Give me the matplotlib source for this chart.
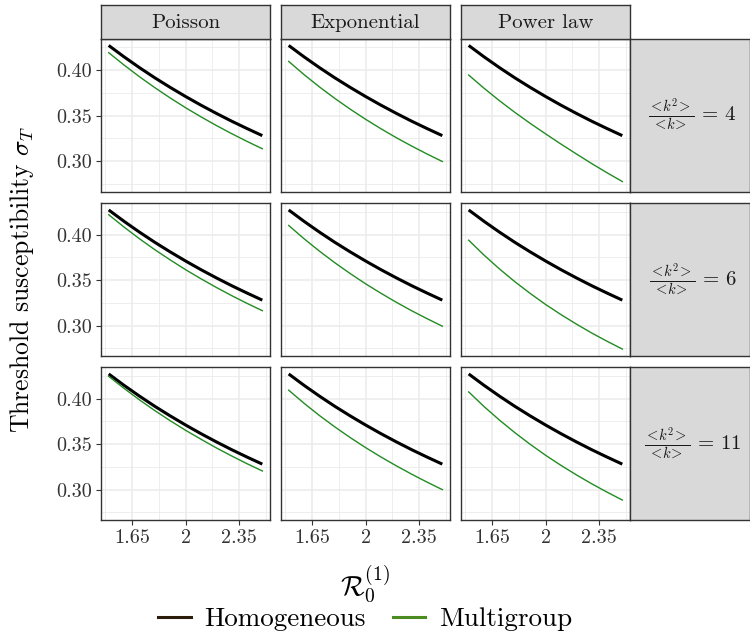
import numpy as np
import matplotlib.pyplot as plt
from matplotlib.lines import Line2D

plt.rcParams['font.family'] = 'cmr10'
plt.rcParams['mathtext.fontset'] = 'cm'
plt.rcParams['axes.formatter.use_mathtext'] = True

# ---- data ----
r0 = [1.5, 1.6, 1.7, 1.8, 1.9, 2.0, 2.1, 2.2, 2.3, 2.4, 2.5]

homogeneous = [0.4270, 0.4145, 0.4027, 0.3915, 0.3810, 0.3710,
               0.3615, 0.3525, 0.3439, 0.3358, 0.3280]

poisson_4 = [0.4191, 0.4055, 0.3927, 0.3807, 0.3694, 0.3587,
             0.3487, 0.3392, 0.3302, 0.3217, 0.3136]
poisson_6 = [0.4218, 0.4082, 0.3954, 0.3834, 0.3722, 0.3615,
             0.3515, 0.3420, 0.3330, 0.3245, 0.3164]
poisson_11 = [0.4244, 0.4112, 0.3986, 0.3868, 0.3757, 0.3652,
              0.3554, 0.3459, 0.3370, 0.3285, 0.3205]

expo_4 = [0.4095, 0.3950, 0.3815, 0.3689, 0.3571, 0.3460,
          0.3356, 0.3258, 0.3166, 0.3079, 0.2996]
expo_6 = [0.4100, 0.3954, 0.3818, 0.3691, 0.3572, 0.3460,
          0.3356, 0.3257, 0.3164, 0.3077, 0.2994]
expo_11 = [0.4092, 0.3948, 0.3814, 0.3689, 0.3572, 0.3462,
           0.3359, 0.3262, 0.3170, 0.3083, 0.3000]

power_4 = [0.3945, 0.3800, 0.3664, 0.3536, 0.3415, 0.3300,
           0.3188, 0.3080, 0.2974, 0.2873, 0.2776]
power_6 = [0.3938, 0.3774, 0.3623, 0.3483, 0.3354, 0.3233,
           0.3122, 0.3018, 0.2920, 0.2829, 0.2743]
power_11 = [0.4073, 0.3912, 0.3764, 0.3626, 0.3498, 0.3378,
            0.3267, 0.3163, 0.3065, 0.2973, 0.2886]

distributions = ['Poisson', 'Exponential', 'Power law']
ratios = [4, 6, 11]
multigroup = {
    'Poisson': [poisson_4, poisson_6, poisson_11],
    'Exponential': [expo_4, expo_6, expo_11],
    'Power law': [power_4, power_6, power_11],
}

xticks = [1.65, 2.0, 2.35]
xtick_labels = ['1.65', '2', '2.35']
yticks = [0.30, 0.35, 0.40]
ytick_labels = ['0.30', '0.35', '0.40']

# ---- layout (pixels) ----
W, H = 750, 635
col_x = [101, 281, 461]
panel_w = 169
row_y = [38.5, 203, 367]
panel_h = 153
strip_top = 5
strip_right_w = 120

def rect(x0, y0, x1, y1):
    return [x0 / W, 1 - y1 / H, (x1 - x0) / W, (y1 - y0) / H]

all_y = np.concatenate([homogeneous] + [np.ravel(v) for v in multigroup.values()])
ypad = (all_y.max() - all_y.min()) * 0.05
ylim = (all_y.min() - ypad, all_y.max() + ypad)
xpad = (max(r0) - min(r0)) * 0.05
xlim = (min(r0) - xpad, max(r0) + xpad)

xminor = np.r_[np.array(xticks) - 0.175, xticks[-1] + 0.175]
yminor = np.r_[np.array(yticks) - 0.025, yticks[-1] + 0.025]

border = '#333333'
grid_c = '#EBEBEB'
strip_c = '#D9D9D9'
green = '#228B22'

fig = plt.figure(figsize=(W / 100, H / 100), dpi=100)

for i, ratio in enumerate(ratios):
    for j, dist in enumerate(distributions):
        x0, y0 = col_x[j], row_y[i]
        ax = fig.add_axes(rect(x0, y0, x0 + panel_w, y0 + panel_h))
        ax.set_xlim(xlim)
        ax.set_ylim(ylim)
        for v in xminor:
            ax.axvline(v, color=grid_c, lw=0.6, zorder=0)
        for v in yminor:
            ax.axhline(v, color=grid_c, lw=0.6, zorder=0)
        for v in xticks:
            ax.axvline(v, color=grid_c, lw=1.1, zorder=0)
        for v in yticks:
            ax.axhline(v, color=grid_c, lw=1.1, zorder=0)
        ax.plot(r0, homogeneous, color='black', lw=2.2, zorder=2,
                solid_capstyle='butt')
        ax.plot(r0, multigroup[dist][i], color=green, lw=1.0, zorder=3)
        for s in ax.spines.values():
            s.set_color(border)
            s.set_linewidth(1.0)
        ax.set_xticks(xticks)
        ax.set_yticks(yticks)
        ax.tick_params(length=3.5, width=0.8, color=border, labelcolor='#333333',
                       labelsize=14.5, pad=3)
        if i == len(ratios) - 1:
            ax.set_xticklabels(xtick_labels)
        else:
            ax.tick_params(axis='x', length=0, labelbottom=False)
        if j == 0:
            ax.set_yticklabels(ytick_labels)
        else:
            ax.tick_params(axis='y', length=0, labelleft=False)

        if i == 0:
            sax = fig.add_axes(rect(x0, strip_top, x0 + panel_w, y0))
            sax.set_facecolor(strip_c)
            sax.set_xticks([])
            sax.set_yticks([])
            for s in sax.spines.values():
                s.set_color(border)
                s.set_linewidth(1.0)
            sax.text(0.5, 0.45, dist, ha='center', va='center', fontsize=15,
                     color='#1A1A1A', transform=sax.transAxes)

    x_r = col_x[-1] + panel_w
    rax = fig.add_axes(rect(x_r, row_y[i], x_r + strip_right_w, row_y[i] + panel_h))
    rax.set_facecolor(strip_c)
    rax.set_xticks([])
    rax.set_yticks([])
    for s in rax.spines.values():
        s.set_color(border)
        s.set_linewidth(1.0)
    rax.text(0.52, 0.5, r'$\frac{<\!k^2\!>}{<\!k\!>}\,=\,%d$' % ratio,
             ha='center', va='center', fontsize=15, color='#1A1A1A',
             transform=rax.transAxes)

fig.text(22 / W, 1 - 279 / H, r'Threshold susceptibility $\sigma_T$', rotation=90,
         ha='center', va='center', fontsize=18.5)
fig.text(365 / W, 1 - 584 / H, r'$\mathcal{R}_0^{(1)}$', ha='center', va='center',
         fontsize=20)

handles = [Line2D([], [], color='#2B1D0A', lw=2.2),
           Line2D([], [], color='#4A8C1F', lw=2.2)]
fig.legend(handles, ['Homogeneous', 'Multigroup'], loc='center',
           bbox_to_anchor=(365 / W, 1 - 619 / H), ncol=2, frameon=False,
           fontsize=19.5, handlelength=1.2, handletextpad=0.5, columnspacing=1.0)

fig.savefig('out.png', dpi=100)
